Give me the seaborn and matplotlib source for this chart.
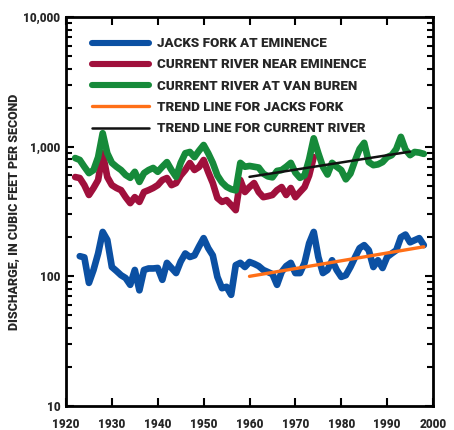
import numpy as np
import pandas as pd
import matplotlib
matplotlib.use("Agg")
import matplotlib.pyplot as plt
import seaborn as sns
from matplotlib.ticker import FixedLocator, LogLocator, NullFormatter
from matplotlib.lines import Line2D

# ---- data ----
green_years = list(range(1922, 1999))
green_vals = [817, 790, 700, 625, 660, 830, 1270, 890, 750, 700,
              660, 605, 575, 640, 535, 625, 660, 685, 640, 700,
              760, 660, 585, 750, 890, 910, 830, 930, 1030, 890,
              750, 600, 530, 490, 470, 460, 750, 700, 710, 700,
              690, 620, 590, 580, 650, 660, 700, 750, 630, 575,
              600, 800, 1160, 890, 700, 610, 750, 700, 660, 560,
              620, 780, 960, 1070, 760, 720, 730, 760, 830, 860,
              960, 1190, 950, 860, 910, 900, 880]

red_years = list(range(1922, 1975))
red_vals = [583, 573, 505, 424, 480, 553, 890, 583, 505, 480,
            462, 408, 367, 408, 375, 447, 462, 480, 505, 553,
            573, 505, 524, 600, 661, 748, 661, 697, 789, 637,
            524, 402, 375, 387, 355, 324, 553, 447, 488, 524,
            447, 408, 415, 424, 462, 488, 424, 480, 408, 447,
            488, 600, 831]

blue_years = list(range(1923, 1999))
blue_vals = [143, 140, 89, 112, 150, 220, 191, 118, 110, 102,
             97, 86, 112, 78, 112, 115, 115, 116, 94, 127,
             116, 106, 130, 150, 141, 145, 170, 197, 165, 145,
             99, 81, 83, 72, 122, 127, 118, 129, 125, 120,
             112, 108, 104, 86, 108, 120, 127, 106, 106, 127,
             180, 220, 141, 106, 112, 133, 112, 99, 102, 118,
             140, 165, 174, 159, 118, 133, 116, 141, 150, 159,
             200, 210, 183, 190, 197, 174]

trend_jacks_years = [1960, 1998]
trend_jacks_vals = [100, 169]
trend_current_years = [1960, 1995]
trend_current_vals = [585, 915]

labels = ["JACKS FORK AT EMINENCE", "CURRENT RIVER NEAR EMINENCE",
          "CURRENT RIVER AT VAN BUREN", "TREND LINE FOR JACKS FORK",
          "TREND LINE FOR CURRENT RIVER"]
ytick_vals = [10, 100, 1000, 10000]
ytick_labels = ["10", "100", "1,000", "10,000"]
xtick_vals = [1920, 1930, 1940, 1950, 1960, 1970, 1980, 1990, 2000]
ylabel = "DISCHARGE, IN CUBIC FEET PER SECOND"

# ---- style ----
sns.set_style("ticks")
fam = ["Roboto", "DejaVu Sans"]
plt.rcParams["font.family"] = fam
plt.rcParams["font.weight"] = "bold"

colors = {labels[0]: "#0b50a3", labels[1]: "#a0103c", labels[2]: "#168a3a",
          labels[3]: "#ff6f17", labels[4]: "#111111"}

df = pd.concat([
    pd.DataFrame({"year": blue_years, "q": blue_vals, "series": labels[0]}),
    pd.DataFrame({"year": red_years, "q": red_vals, "series": labels[1]}),
    pd.DataFrame({"year": green_years, "q": green_vals, "series": labels[2]}),
])
tr = pd.concat([
    pd.DataFrame({"year": trend_jacks_years, "q": trend_jacks_vals, "series": labels[3]}),
    pd.DataFrame({"year": trend_current_years, "q": trend_current_vals, "series": labels[4]}),
])

fig = plt.figure(figsize=(4.54, 4.30), dpi=100)
ax = fig.add_axes([66/454, 24/430, 367/454, 389/430])

sns.lineplot(data=df, x="year", y="q", hue="series", palette=colors,
             linewidth=4.8, ax=ax, legend=False, solid_capstyle="round",
             solid_joinstyle="round")
sns.lineplot(data=tr[tr.series == labels[3]], x="year", y="q", color=colors[labels[3]],
             linewidth=2.4, ax=ax, legend=False)
sns.lineplot(data=tr[tr.series == labels[4]], x="year", y="q", color=colors[labels[4]],
             linewidth=1.8, ax=ax, legend=False)

ax.set_yscale("log")
ax.set_ylim(10, 10000)
ax.set_xlim(1920, 2000)
ax.set_xticks(xtick_vals)
ax.set_xticklabels([str(v) for v in xtick_vals], fontsize=8.5, fontweight="heavy")
ax.yaxis.set_major_locator(FixedLocator(ytick_vals))
ax.set_yticklabels(ytick_labels, fontsize=8.5, fontweight="heavy")
ax.yaxis.set_minor_locator(LogLocator(base=10, subs=np.arange(2, 10)))
ax.yaxis.set_minor_formatter(NullFormatter())
ax.tick_params(axis="both", which="both", direction="in", top=True, right=True,
               width=1.5, color="black")
ax.tick_params(axis="both", which="major", length=6, pad=4)
ax.tick_params(axis="x", which="major", pad=9)
ax.tick_params(axis="y", which="minor", length=4)
for s in ax.spines.values():
    s.set_linewidth(2)
    s.set_color("black")
ax.set_xlabel("")
ax.set_ylabel(ylabel, fontsize=9, fontweight="heavy", labelpad=2)

handles = [Line2D([], [], color=colors[labels[i]], lw=w) for i, w in
           zip(range(5), [4.4, 4.4, 4.4, 2.4, 1.8])]
leg = ax.legend(handles, labels, loc="upper left", frameon=False,
                prop={"family": fam, "weight": "heavy", "size": 9.6},
                handlelength=4.3, handletextpad=0.55, labelspacing=0.62,
                bbox_to_anchor=(0.045, 0.972), borderaxespad=0.3)

fig.savefig("out.png", dpi=100)
